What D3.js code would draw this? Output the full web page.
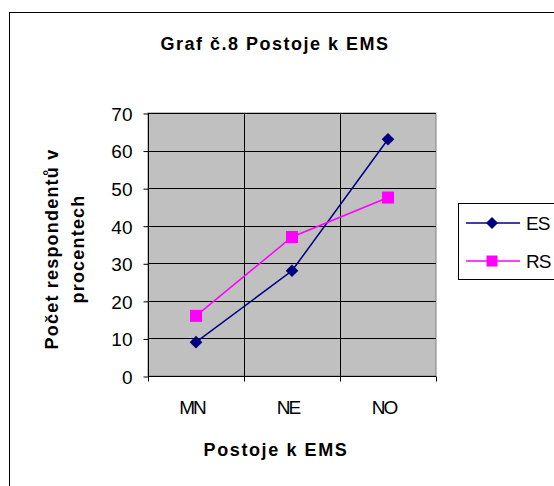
<!DOCTYPE html>
<meta charset="utf-8">
<style>
body { margin: 0; background: #fff; }
text { font-family: "Liberation Sans", Arial, sans-serif; fill: #000; }
.axis path, .axis line { stroke: #000; }
.grid line { stroke: #000; stroke-width: 1; }
</style>
<svg width="554" height="486"></svg>
<script src="https://d3js.org/d3.v7.min.js"></script>
<script>

var categories = ["MN", "NE", "NO"];
var esValues = [9, 28, 63];
var rsValues = [16, 37, 47.5];
var yTicks = [0, 10, 20, 30, 40, 50, 60, 70];

// the ES diamond is a square turned by 45 degrees
var series = [
  {name: "ES", values: esValues, color: "#000080", size: 80, turn: 45},
  {name: "RS", values: rsValues, color: "#FF00FF", size: 144, turn: 0}
];

var svg = d3.select("svg");

// chart frame (runs off the right and bottom)
svg.append("rect")
    .attr("x", 9.5).attr("y", 12.5)
    .attr("width", 600).attr("height", 500)
    .attr("fill", "#fff").attr("stroke", "#000");

var plotLeft = 148, plotRight = 436, plotTop = 113, plotBottom = 376;

var x = d3.scaleBand().domain(categories).range([plotLeft, plotRight]);
var y = d3.scaleLinear().domain([0, 70]).range([plotBottom, plotTop]);

// plot area
svg.append("rect")
    .attr("x", plotLeft).attr("y", plotTop)
    .attr("width", plotRight - plotLeft).attr("height", plotBottom - plotTop)
    .attr("fill", "#C0C0C0").attr("stroke", "#808080");

var grid = svg.append("g").attr("class", "grid");
grid.selectAll(".h").data(yTicks.slice(1))
  .enter().append("line")
    .attr("x1", plotLeft).attr("x2", plotRight)
    .attr("y1", function(d) { return Math.round(y(d)) + 0.5; })
    .attr("y2", function(d) { return Math.round(y(d)) + 0.5; });
grid.selectAll(".v").data(categories.slice(1))
  .enter().append("line")
    .attr("x1", function(d) { return Math.round(x(d)) + 0.5; })
    .attr("x2", function(d) { return Math.round(x(d)) + 0.5; })
    .attr("y1", plotTop).attr("y2", plotBottom);

// y axis
var yAxis = svg.append("g").attr("class", "axis")
    .attr("transform", "translate(" + (plotLeft + 0.5) + ",0.5)")
    .call(d3.axisLeft(y).tickValues(yTicks).tickSize(5).tickPadding(11).tickSizeOuter(0));
yAxis.select(".domain").attr("d", "M0," + plotBottom + "V" + plotTop);
yAxis.selectAll("text").style("font-size", "19px").attr("dy", "0.36em");

// x axis with ticks at the category boundaries
var xAxis = svg.append("g").attr("class", "axis")
    .attr("transform", "translate(0," + (plotBottom + 0.5) + ")");
xAxis.append("line").attr("x1", plotLeft).attr("x2", plotRight).attr("stroke", "#000");
xAxis.selectAll(".tk").data(categories.concat([null]))
  .enter().append("line")
    .attr("x1", function(d, i) { return Math.round(plotLeft + i * x.bandwidth()) + 0.5; })
    .attr("x2", function(d, i) { return Math.round(plotLeft + i * x.bandwidth()) + 0.5; })
    .attr("y1", 0).attr("y2", 5).attr("stroke", "#000");
xAxis.selectAll(".lbl").data(categories)
  .enter().append("text")
    .attr("x", function(d) { return x(d) + x.bandwidth() / 2 - 4; })
    .attr("y", 37)
    .attr("text-anchor", "middle")
    .style("font-size", "19px")
    .style("letter-spacing", "-2px")
    .text(function(d) { return d; });

// lines and markers
var line = d3.line()
    .x(function(d, i) { return x(categories[i]) + x.bandwidth() / 2; })
    .y(function(d) { return y(d); });

series.forEach(function(s) {
  svg.append("path")
      .datum(s.values)
      .attr("fill", "none")
      .attr("stroke", s.color)
      .attr("stroke-width", 1.5)
      .attr("d", line);
  svg.selectAll(null).data(s.values)
    .enter().append("path")
      .attr("transform", function(d, i) {
        return "translate(" + (x(categories[i]) + x.bandwidth() / 2) + "," + y(d) + ") rotate(" + s.turn + ")";
      })
      .attr("d", d3.symbol().type(d3.symbolSquare).size(s.size))
      .attr("fill", s.color);
});

// titles
svg.append("text")
    .attr("x", 275).attr("y", 50)
    .attr("text-anchor", "middle")
    .style("font-size", "18px").style("font-weight", "bold")
    .style("letter-spacing", "1.5px")
    .text("Graf č.8 Postoje k EMS");

svg.append("text")
    .attr("x", 276).attr("y", 456)
    .attr("text-anchor", "middle")
    .style("font-size", "18px").style("font-weight", "bold")
    .style("letter-spacing", "1.6px")
    .text("Postoje k EMS");

var yTitle = svg.append("text")
    .attr("transform", "translate(52,249) rotate(-90)")
    .attr("text-anchor", "middle")
    .style("font-size", "18px").style("font-weight", "bold")
    .style("letter-spacing", "1.2px");
yTitle.append("tspan").attr("x", 0).attr("y", 6).text("Počet respondentů v");
yTitle.append("tspan").attr("x", 0).attr("y", 32).text("procentech");

// legend
var legend = svg.append("g");
legend.append("rect")
    .attr("x", 458.5).attr("y", 203.5)
    .attr("width", 120).attr("height", 76)
    .attr("fill", "#fff").attr("stroke", "#000");
series.forEach(function(s, i) {
  var ly = 223 + i * 38;
  legend.append("line")
      .attr("x1", 466).attr("x2", 520)
      .attr("y1", ly).attr("y2", ly)
      .attr("stroke", s.color).attr("stroke-width", 1.5);
  legend.append("path")
      .attr("transform", "translate(492," + ly + ") rotate(" + s.turn + ")")
      .attr("d", d3.symbol().type(d3.symbolSquare).size(s.turn ? 72 : 121))
      .attr("fill", s.color);
  legend.append("text")
      .attr("x", 526).attr("y", ly + 7)
      .style("font-size", "19px")
      .style("letter-spacing", "-1px")
      .text(s.name);
});

</script>
